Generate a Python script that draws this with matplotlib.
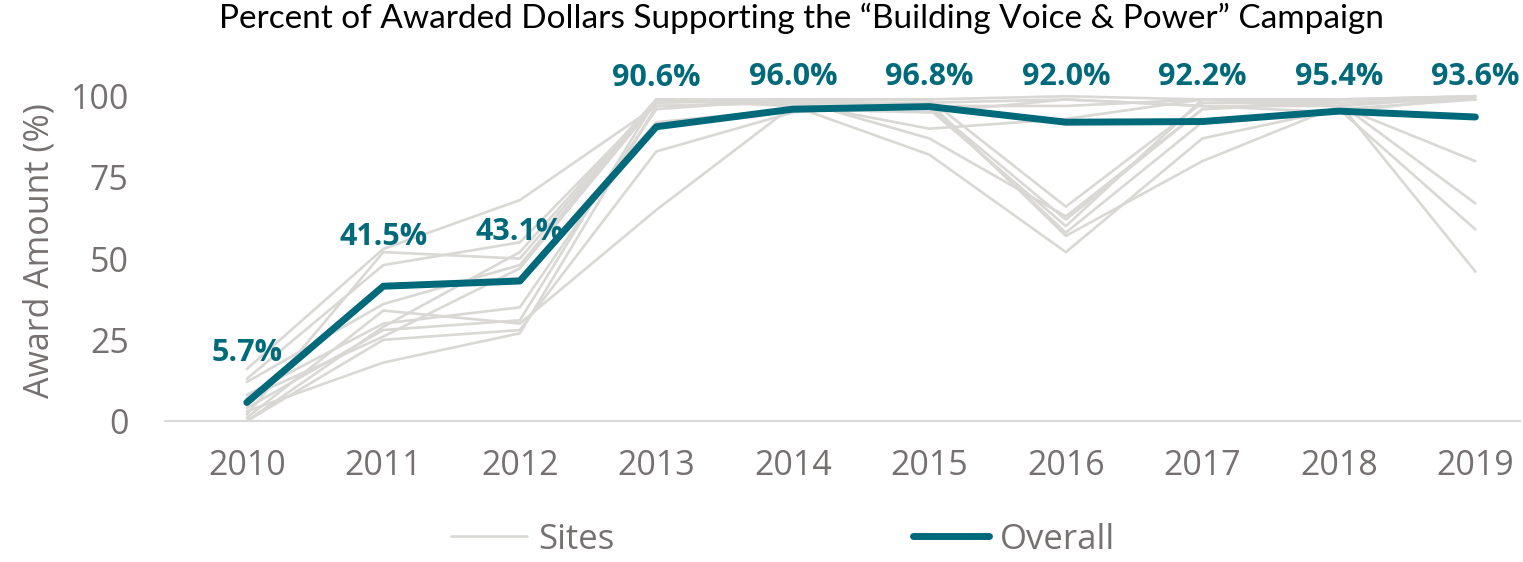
import numpy as np
import matplotlib.pyplot as plt

years = [2010, 2011, 2012, 2013, 2014, 2015, 2016, 2017, 2018, 2019]
overall = [5.7, 41.5, 43.1, 90.6, 96.0, 96.8, 92.0, 92.2, 95.4, 93.6]

# individual sites
site_01 = [2, 52, 50, 99, 99, 99, 100, 99, 99, 100]
site_02 = [16, 53, 68, 97, 98, 98, 99, 97, 97, 80]
site_03 = [13, 48, 55, 98, 99, 87, 63, 96, 98, 67]
site_04 = [12, 36, 48, 99, 97, 97, 58, 92, 96, 59]
site_05 = [8, 30, 35, 96, 99, 99, 66, 98, 98, 46]
site_06 = [4, 28, 31, 99, 97, 96, 60, 99, 97, 100]
site_07 = [1, 34, 30, 65, 97, 82, 52, 87, 96, 99]
site_08 = [0, 25, 28, 83, 95, 98, 57, 80, 97, 100]
site_09 = [3, 18, 27, 97, 98, 97, 62, 96, 99, 100]
site_10 = [7, 26, 47, 98, 99, 97, 97, 99, 98, 99]
site_11 = [5, 42, 44, 92, 96, 95, 99, 97, 95, 100]
site_12 = [0, 29, 52, 99, 98, 90, 93, 99, 99, 99]
sites = [site_01, site_02, site_03, site_04, site_05, site_06,
         site_07, site_08, site_09, site_10, site_11, site_12]

teal = '#00697a'
grey_line = '#d9d8d5'
text_grey = '#767171'

fig = plt.figure(figsize=(15.23, 5.62), dpi=100)
ax = fig.add_axes([0.1083, 0.2509, 0.89, 0.6068])

for i, s in enumerate(sites):
    ax.plot(years, s, color=grey_line, lw=1.9, solid_capstyle='round',
            label='Sites' if i == 0 else None, zorder=2)
ax.plot(years, overall, color=teal, lw=5, solid_capstyle='round',
        label='Overall', zorder=3)

# labels sit above the point but are kept inside the plot area (like Excel)
for x, v in zip(years, overall):
    ax.text(x, min(v + 15.1, 105.8), f'{v:.1f}%', ha='center', va='center',
            fontsize=22, fontweight='bold', color=teal, family='Open Sans',
            zorder=4, clip_on=False)

ax.set_xlim(2009.4, 2019.33)
ax.set_ylim(0, 105)
ax.set_yticks([0, 25, 50, 75, 100])
ax.set_xticks(years)
for sp in ['top', 'right', 'left']:
    ax.spines[sp].set_visible(False)
ax.spines['bottom'].set_color('#d9d9d9')
ax.spines['bottom'].set_linewidth(1.5)
ax.tick_params(axis='both', length=0, labelsize=24.5, labelcolor=text_grey)
ax.tick_params(axis='x', pad=20)
ax.tick_params(axis='y', pad=26)
for lab in ax.get_xticklabels() + ax.get_yticklabels():
    lab.set_family('Open Sans')
ax.set_ylabel('Award Amount (%)', fontsize=24.5, color=text_grey,
              family='Open Sans', labelpad=10)

fig.suptitle('Percent of Awarded Dollars Supporting the \u201cBuilding Voice & Power\u201d Campaign',
             x=0.526, y=0.995, fontsize=24, family='Lato', va='top')

fig.legend(loc='lower center', bbox_to_anchor=(0.514, -0.046), ncol=2, frameon=False,
           handlelength=2.2, handletextpad=0.3, columnspacing=8.6,
           prop={'family': 'Open Sans', 'size': 25}, labelcolor=text_grey)

fig.savefig('out.png', dpi=100)
